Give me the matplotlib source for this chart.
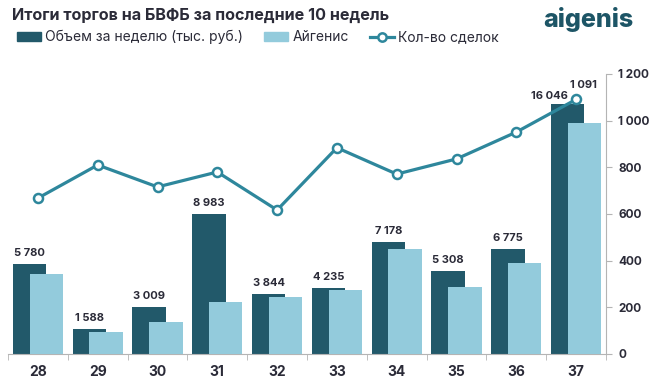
import numpy as np
import matplotlib
matplotlib.use("Agg")
import matplotlib.pyplot as plt
from matplotlib.lines import Line2D
from matplotlib.patches import Patch

plt.rcParams['font.family'] = ['Inter', 'DejaVu Sans']

weeks = ['28', '29', '30', '31', '32', '33', '34', '35', '36', '37']
volume = [5780, 1588, 3009, 8983, 3844, 4235, 7178, 5308, 6775, 16046]
aigenis = [5150, 1430, 2080, 3360, 3690, 4130, 6770, 4330, 5870, 14870]
deals = [668, 810, 716, 780, 617, 884, 771, 836, 951, 1091]

dark = '#22596a'
light = '#93cbdc'
line_c = '#2e879c'
grey = '#b4b4b4'
txt = '#2b2b38'

def fmt(v):
    return '{:,}'.format(int(v)).replace(',', ' ')

fig = plt.figure(figsize=(6.49, 3.83), dpi=100)
ax = fig.add_axes([8/649, 29/383, 598/649, 280/383])
x = np.arange(len(weeks))
w = 0.56
ax.bar(x - 0.14, volume, w, color=dark, zorder=2)
ax.bar(x + 0.14, aigenis, w, color=light, zorder=3)
ax.set_ylim(0, 18000)
ax.set_xlim(-0.5, len(weeks) - 0.5)
for s in ['top', 'left', 'right']:
    ax.spines[s].set_visible(False)
ax.spines['bottom'].set_color(grey)
ax.set_yticks([])
ax.set_xticks(x)
ax.set_xticklabels(weeks, fontsize=10, fontweight='bold', color=txt)
ax.tick_params(axis='x', length=0, pad=8)
ax.set_xticks(np.arange(-0.5, len(weeks)), minor=True)
ax.tick_params(axis='x', which='minor', length=4, color=grey)

for i, v in enumerate(volume):
    if i == len(volume) - 1:
        ax.annotate(fmt(v), (i - 0.14, v), xytext=(-18, 3), textcoords='offset pixels',
                    ha='center', va='bottom', fontsize=8, fontweight='bold', color=txt)
    else:
        ax.annotate(fmt(v), (i - 0.14, v), xytext=(0, 6), textcoords='offset pixels',
                    ha='center', va='bottom', fontsize=8, fontweight='bold', color=txt)

ax2 = ax.twinx()
ax2.plot(x, deals, color=line_c, lw=2.3, marker='o', ms=6.5, mfc='white',
         mec=line_c, mew=1.8, zorder=5)
ax2.set_ylim(0, 1200)
ax2.set_yticks(range(0, 1201, 200))
ax2.set_yticklabels([fmt(t) for t in range(0, 1201, 200)], fontsize=8.5,
                    fontweight='bold', color=txt)
ax2.tick_params(axis='y', length=4, color=grey, pad=5)
for s in ['top', 'left', 'bottom']:
    ax2.spines[s].set_visible(False)
ax2.spines['right'].set_color(grey)
ax2.annotate(fmt(deals[-1]), (x[-1], deals[-1]), xytext=(7, 9), textcoords='offset pixels',
             ha='center', va='bottom', fontsize=8, fontweight='bold', color=txt)

fig.text(12/649, 1 - 15/383, 'Итоги торгов на БВФБ за последние 10 недель',
         fontsize=11.6, fontweight='bold', color=txt, va='center', ha='left')
fig.text(633/649, 1 - 19/383, 'aigenis', fontsize=18, fontweight='heavy',
         color='#1d5566', va='center', ha='right')

handles = [Patch(color=dark), Patch(color=light),
           Line2D([0], [0], color=line_c, lw=2.3, marker='o', ms=6, mfc='white',
                  mec=line_c, mew=1.8)]
labels = ['Объем за неделю (тыс. руб.)', 'Айгенис', 'Кол-во сделок']
fig.legend(handles, labels, loc='center left', bbox_to_anchor=(13/649, 1 - 37/383),
           ncol=3, frameon=False, fontsize=10, handlelength=1.7, handleheight=0.6,
           handletextpad=0.3, columnspacing=1.55, labelcolor=txt, borderaxespad=0,
           borderpad=0.3)

fig.savefig('out.png', dpi=100)
